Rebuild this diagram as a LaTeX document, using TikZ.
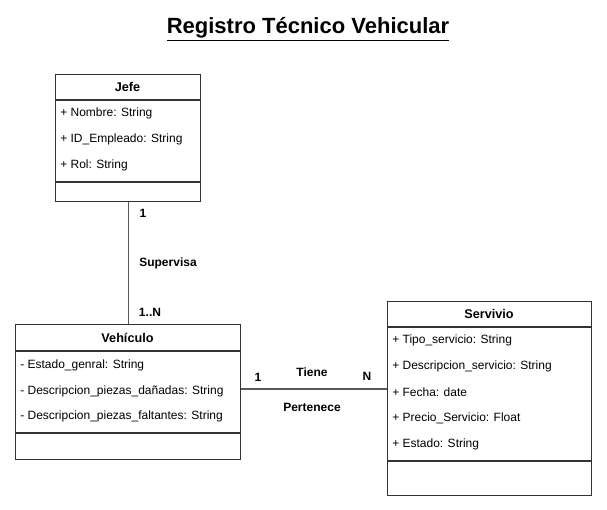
\documentclass[tikz,border=0pt]{standalone}
\usepackage{fontspec}
\setmainfont{Liberation Sans}
\begin{document}
\begin{tikzpicture}[x=0.75pt,y=-0.75pt,
  classbox/.style={draw=black!80, line width=0.9pt, anchor=north west, inner sep=0pt},
  sep/.style={draw=black!80, line width=0.9pt},
  conn/.style={draw=black!65, line width=0.9pt},
  attr/.style={anchor=west, font=\fontsize{9}{11}\selectfont, inner sep=0pt},
  hdr/.style={font=\fontsize{9.5}{11}\selectfont\bfseries, inner sep=0pt},
  lbl/.style={font=\fontsize{9}{11}\selectfont\bfseries, inner sep=0pt}]
\useasboundingbox[fill=white] (0,0) rectangle (607,510);
\node[font=\fontsize{16.5}{20}\selectfont\bfseries, inner sep=0pt] (title) at (308,29) {\underline{Registro Técnico Vehicular}};
% Jefe
\node[classbox, minimum width=108.75pt, minimum height=95.25pt] (jefe) at (55,74) {};
\node[hdr] (jefeh) at (127.5,87) {Jefe};
\draw[sep] (jefe.north west |- 0,100) -- (jefe.north east |- 0,100);
\node[attr] (j1) at (60,113) {+ Nombre: String};
\node[attr] (j2) at (60,139) {+ ID\_Empleado: String};
\node[attr] (j3) at (60,165) {+ Rol: String};
\draw[sep] (jefe.north west |- 0,182) -- (jefe.north east |- 0,182);
% Vehiculo
\node[classbox, minimum width=168.75pt, minimum height=101.25pt] (veh) at (15,324) {};
\node[hdr] (vehh) at (127.5,338) {Vehículo};
\draw[sep] (veh.north west |- 0,351) -- (veh.north east |- 0,351);
\node[attr] (v1) at (20,365) {- Estado\_genral: String};
\node[attr] (v2) at (20,391) {- Descripcion\_piezas\_dañadas: String};
\node[attr] (v3) at (20,416) {- Descripcion\_piezas\_faltantes: String};
\draw[sep] (veh.north west |- 0,433) -- (veh.north east |- 0,433);
% Servivio
\node[classbox, minimum width=153pt, minimum height=145.5pt] (serv) at (387,301) {};
\node[hdr] (servh) at (489,314) {Servivio};
\draw[sep] (serv.north west |- 0,327) -- (serv.north east |- 0,327);
\node[attr] (s1) at (392,340) {+ Tipo\_servicio: String};
\node[attr] (s2) at (392,366) {+ Descripcion\_servicio: String};
\node[attr] (s3) at (392,392) {+ Fecha: date};
\node[attr] (s4) at (392,418) {+ Precio\_Servicio: Float};
\node[attr] (s5) at (392,444) {+ Estado: String};
\draw[sep] (serv.north west |- 0,461) -- (serv.north east |- 0,461);
% connectors
\draw[conn] (jefe.south) -- (jefe.south |- veh.north);
\node[lbl] (m1) at (143,213) {1};
\node[lbl] (sup) at (168,263) {Supervisa};
\node[lbl] (m2) at (150,312) {1..N};
\draw[conn] (veh.east |- 0,389) -- (serv.west |- 0,389);
\node[lbl] (m3) at (258,377) {1};
\node[lbl] (tiene) at (312,372) {Tiene};
\node[lbl] (m4) at (367,376) {N};
\node[lbl] (pert) at (312,407) {Pertenece};
\end{tikzpicture}
\end{document}
